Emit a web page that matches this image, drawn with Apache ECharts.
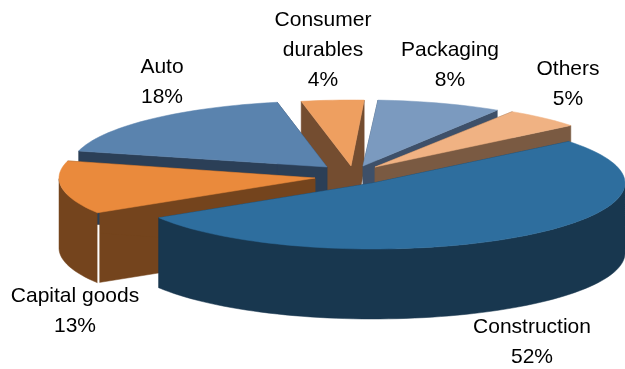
<!DOCTYPE html>
<html>
<head>
<meta charset="utf-8">
<style>html,body{margin:0;padding:0;background:#fff}#c{width:625px;height:369px}</style>
<script src="https://cdn.jsdelivr.net/npm/echarts@6/dist/echarts.min.js"></script>
</head>
<body>
<div id="c"></div>
<script>
// Data, in clockwise pie order
var categories = ['Construction', 'Capital goods', 'Auto', 'Consumer durables', 'Packaging', 'Others'];
var shares = [52, 13, 18, 4, 8, 5];
var labelLines = [['Construction', '52%'], ['Capital goods', '13%'], ['Auto', '18%'], ['Consumer', 'durables', '4%'], ['Packaging', '8%'], ['Others', '5%']];

// Styles and layout
var topColors = ['#2e6e9e', '#ea8a3c', '#5a83ae', '#ee9f60', '#7b9abf', '#f0b283'];
var wallColors = ['#18374f', '#74441d', '#2b3f57', '#744d30', '#3e5069', '#7a5a42'];
var explodedCenters = [[373, 183], [315, 178], [327, 167], [351, 166], [363, 166], [375, 167]];
var radiiX = [252, 256, 256, 252, 252, 252];
var angleNudges = [0, 0, 1, 1.2, 0.8, 0];
var labelAnchors = [[532, 327.5], [75, 296.5], [162, 67.5], [323, 20.5], [450, 50], [568, 69.5]];
var paintOrder = [3, 4, 5, 2, 1, 0];
var startAngle = 39, radiusY = 66, depth = 70, lineGap = 30;

var total = shares.reduce(function (s, v) { return s + v; }, 0);
var bounds = [], cursor = startAngle;
shares.forEach(function (v, i) {
  var next = cursor - v / total * 360;
  bounds.push([cursor + angleNudges[i], next + angleNudges[i]]);
  cursor = next;
});

function rim(c, rx, deg) {
  var r = deg * Math.PI / 180;
  return [c[0] + rx * Math.cos(r), c[1] - radiusY * Math.sin(r)];
}
function down(p, d) { return [p[0], p[1] + d]; }

function renderSlice(params, api) {
  var i = api.value(0);
  var c = explodedCenters[i], b = bounds[i];
  var arc = [], a;
  var steps = Math.max(4, Math.ceil((b[0] - b[1]) / 2));
  for (var k = 0; k <= steps; k++) {
    a = b[0] + (b[1] - b[0]) * k / steps;
    arc.push(rim(c, radiiX[i], a));
  }
  var wallStyle = { fill: wallColors[i], stroke: wallColors[i], lineWidth: 0.5 };
  var children = [];
  // radial walls
  [arc[0], arc[arc.length - 1]].forEach(function (p) {
    children.push({ type: 'polygon', shape: { points: [p, c, down(c, depth), down(p, depth)] }, style: wallStyle });
  });
  // outer wall: only the front-facing part of the rim
  var front = arc.filter(function (p) { return p[1] >= c[1]; });
  if (front.length > 1) {
    children.push({
      type: 'polygon',
      shape: { points: front.concat(front.slice().reverse().map(function (p) { return down(p, depth); })) },
      style: wallStyle
    });
  }
  // small seam between the Capital goods walls
  if (categories[i] === 'Capital goods') {
    var e = arc[0];
    children.push({ type: 'line', shape: { x1: e[0] + 1, y1: e[1], x2: e[0] + 1, y2: e[1] + 12 }, style: { stroke: wallColors[2], lineWidth: 2 } });
    children.push({ type: 'line', shape: { x1: e[0] + 1, y1: e[1] + 12, x2: e[0] + 1, y2: e[1] + depth + 2 }, style: { stroke: '#ffffff', lineWidth: 2 } });
  }
  // top face
  children.push({ type: 'polygon', shape: { points: [c].concat(arc) }, style: { fill: topColors[i], stroke: topColors[i], lineWidth: 0.5 } });
  // label
  labelLines[i].forEach(function (t, n) {
    children.push({
      type: 'text', z2: 10,
      style: {
        text: t, x: labelAnchors[i][0], y: labelAnchors[i][1] + n * lineGap,
        textAlign: 'center', textVerticalAlign: 'middle',
        font: '21px "Liberation Sans", Arial, sans-serif', fill: '#000000'
      }
    });
  });
  return { type: 'group', children: children };
}

var chart = echarts.init(document.getElementById('c'), null, { renderer: 'canvas' });
chart.setOption({
  animation: false,
  backgroundColor: '#ffffff',
  series: [{
    type: 'custom',
    coordinateSystem: 'none',
    renderItem: renderSlice,
    encode: { itemName: 2, value: 1 },
    data: paintOrder.map(function (i) { return [i, shares[i], categories[i]]; })
  }]
});
</script>
</body>
</html>
